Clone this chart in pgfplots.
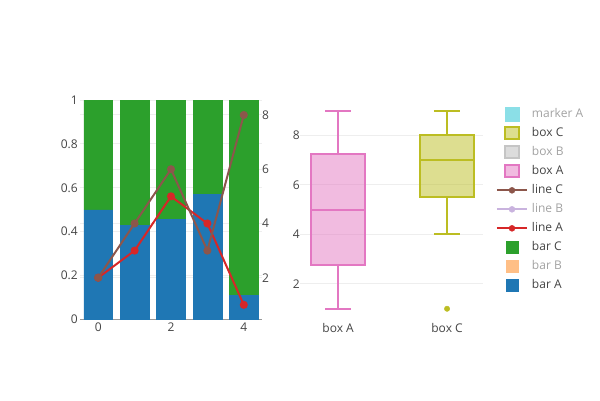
\documentclass[border=0pt]{standalone}
\usepackage{fontspec}
\setmainfont{Open Sans}
\usepackage{pgfplots}
\pgfplotsset{compat=1.18}
\definecolor{barA}{HTML}{1F77B4}
\definecolor{barB}{HTML}{FF7F0E}
\definecolor{barC}{HTML}{2CA02C}
\definecolor{lineA}{HTML}{D62728}
\definecolor{lineB}{HTML}{9467BD}
\definecolor{lineC}{HTML}{8C564B}
\definecolor{boxA}{HTML}{E377C2}
\definecolor{boxB}{HTML}{7F7F7F}
\definecolor{boxC}{HTML}{BCBD22}
\definecolor{markA}{HTML}{17BECF}
\definecolor{txt}{HTML}{444444}
\definecolor{hid}{HTML}{A2A2A2}
\definecolor{gridc}{HTML}{EEEEEE}
\definecolor{zline}{HTML}{999999}
\pgfplotsset{
  common/.style={
    scale only axis, anchor=south west, enlargelimits=false,
    /pgf/number format/assume math mode=true,
    tick style={draw=none}, major tick length=0pt,
    ticklabel style={text=txt, font=\fontsize{12}{14}\selectfont},
    grid style={color=gridc, line width=1pt},
  }
}
\begin{document}
\begin{tikzpicture}[font=\fontsize{12}{14}\selectfont]
\path[use as bounding box] (0pt,0pt) rectangle (600pt,400pt);
% ---------- bars ----------
\begin{axis}[common, at={(80pt,80.5pt)}, width=182pt, height=219.5pt,
  xmin=-0.5, xmax=4.5, ymin=0, ymax=1,
  ybar stacked, bar width=0.79,
  xtick={0,2,4}, ytick={0,0.2,0.4,0.6,0.8,1},
  yticklabels={0,0.2,0.4,0.6,0.8,1},
  yticklabel style={inner xsep=2pt},
  ymajorgrids,
  extra y ticks={0.1904,0.4375,0.6846,0.9317}, extra y tick labels={},
  extra y tick style={grid=major},
  axis x line*=bottom, axis y line*=left,
  y axis line style={draw=none},
  x axis line style={draw=zline, line width=1.5pt, -},
]
\addplot[fill=barA, draw=barA, line width=0.5pt] coordinates {(0,0.5) (1,0.4286) (2,0.4545) (3,0.5714) (4,0.1111)};
\addplot[fill=barC, draw=barC, line width=0.5pt] coordinates {(0,0.5) (1,0.5714) (2,0.5455) (3,0.4286) (4,0.8889)};
\end{axis}
% ---------- lines ----------
\begin{axis}[common, at={(80pt,80.5pt)}, width=182pt, height=219.5pt,
  xmin=-0.5, xmax=4.5, ymin=0.459, ymax=8.553,
  xtick=\empty, ytick={2,4,6,8},
  axis line style={draw=none},
  ytick pos=right, yticklabel pos=right,
  yticklabel style={inner xsep=0pt},
]
\addplot[lineA, line width=2pt, mark=*, mark size=3pt] coordinates {(0,2) (1,3) (2,5) (3,4) (4,1)};
\addplot[lineC, line width=2pt, mark=*, mark size=3pt] coordinates {(0,2) (1,4) (2,6) (3,3) (4,8)};
\end{axis}
% ---------- boxes ----------
\begin{axis}[common, at={(300pt,80.5pt)}, width=183pt, height=219.5pt,
  xmin=-0.35, xmax=1.33, ymin=0.567, ymax=9.424,
  xtick={0,1}, xticklabels={box A, box C},
  ytick={2,4,6,8},
  yticklabel style={inner xsep=0pt},
  ymajorgrids,
  axis line style={draw=none},
  legend style={at={(axis description cs:1.071,0.978)}, anchor=north west,
    draw=none, fill=none, inner sep=0pt, outer sep=0pt, row sep=0pt,
    column sep=4pt, text=txt, font=\fontsize{12}{14}\selectfont,
    nodes={inner sep=0pt, text height=9pt, text depth=3pt, inner ysep=3.5pt}},
  legend cell align=left,
]
% legend
\addlegendimage{legend image code/.code={\fill[markA!50!white] (8pt,-7pt) rectangle (22pt,7pt);}}
\addlegendentry{\textcolor{hid}{marker A}}
\addlegendimage{legend image code/.code={\draw[boxC, line width=2pt, fill=boxC!50!white] (8pt,-6pt) rectangle (22pt,6pt);}}
\addlegendentry{box C}
\addlegendimage{legend image code/.code={\draw[boxB!45!white, line width=2pt, fill=boxB!27!white] (8pt,-6pt) rectangle (22pt,6pt);}}
\addlegendentry{\textcolor{hid}{box B}}
\addlegendimage{legend image code/.code={\draw[boxA, line width=2pt, fill=boxA!50!white] (8pt,-6pt) rectangle (22pt,6pt);}}
\addlegendentry{box A}
\addlegendimage{legend image code/.code={\draw[lineC, line width=2pt] (0pt,0pt) -- (30pt,0pt); \fill[lineC] (15pt,0pt) circle (3pt);}}
\addlegendentry{line C}
\addlegendimage{legend image code/.code={\draw[lineB!50!white, line width=2pt] (0pt,0pt) -- (30pt,0pt); \fill[lineB!50!white] (15pt,0pt) circle (3pt);}}
\addlegendentry{\textcolor{hid}{line B}}
\addlegendimage{legend image code/.code={\draw[lineA, line width=2pt] (0pt,0pt) -- (30pt,0pt); \fill[lineA] (15pt,0pt) circle (3pt);}}
\addlegendentry{line A}
\addlegendimage{legend image code/.code={\fill[barC] (9pt,-6pt) rectangle (21pt,6pt);}}
\addlegendentry{bar C}
\addlegendimage{legend image code/.code={\fill[barB!50!white] (9pt,-6pt) rectangle (21pt,6pt);}}
\addlegendentry{\textcolor{hid}{bar B}}
\addlegendimage{legend image code/.code={\fill[barA] (9pt,-6pt) rectangle (21pt,6pt);}}
\addlegendentry{bar A}
% box A: whiskers 1..9, Q1 2.75, median 5, Q3 7.25
\addplot[boxA, line width=2pt] coordinates {(0,7.25) (0,9)};
\addplot[boxA, line width=2pt] coordinates {(0,2.75) (0,1)};
\addplot[boxA, line width=2pt] coordinates {(-0.12,9) (0.12,9)};
\addplot[boxA, line width=2pt] coordinates {(-0.12,1) (0.12,1)};
\addplot[draw=boxA, line width=2pt, fill=boxA, fill opacity=0.5] coordinates {(-0.25,2.75) (0.25,2.75) (0.25,7.25) (-0.25,7.25)} -- cycle;
\addplot[boxA, line width=2pt] coordinates {(-0.25,5) (0.25,5)};
% box C: whiskers 4..9, Q1 5.5, median 7, Q3 8, outlier 1
\addplot[boxC, line width=2pt] coordinates {(1,8) (1,9)};
\addplot[boxC, line width=2pt] coordinates {(1,5.5) (1,4)};
\addplot[boxC, line width=2pt] coordinates {(0.88,9) (1.12,9)};
\addplot[boxC, line width=2pt] coordinates {(0.88,4) (1.12,4)};
\addplot[draw=boxC, line width=2pt, fill=boxC, fill opacity=0.5] coordinates {(0.75,5.5) (1.25,5.5) (1.25,8) (0.75,8)} -- cycle;
\addplot[boxC, line width=2pt] coordinates {(0.75,7) (1.25,7)};
\addplot[only marks, mark=*, mark size=2.7pt, color=boxC] coordinates {(1,1)};
\end{axis}
\end{tikzpicture}
\end{document}
